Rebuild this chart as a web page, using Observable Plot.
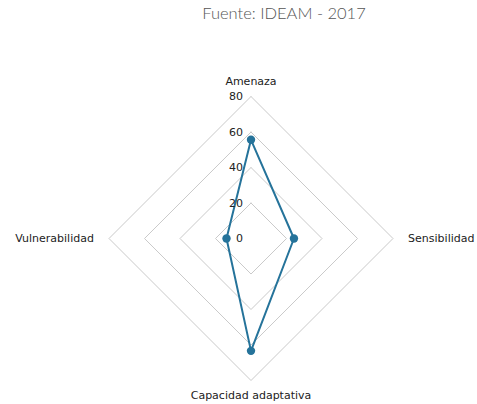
<!DOCTYPE html>
<html>
<head>
<meta charset="utf-8">
<script src="https://cdn.jsdelivr.net/npm/d3@7"></script>
<script src="https://cdn.jsdelivr.net/npm/@observablehq/plot@0.6"></script>
<style>
  html, body { margin: 0; padding: 0; background: #fff; }
  #wrap { position: relative; width: 477px; height: 404px; }
  #title { position: absolute; left: 0; width: 568px; top: 3px; text-align: center;
           font-family: Lato, sans-serif; font-weight: 300; font-size: 16.5px; color: #555; }
  #chart { position: absolute; left: 0; top: 0; }
</style>
</head>
<body>
<div id="wrap">
  <div id="chart"></div>
  <div id="title">Fuente: IDEAM - 2017</div>
</div>
<script>
const axes = ["Amenaza", "Sensibilidad", "Capacidad adaptativa", "Vulnerabilidad"];
const values = [55.6, 24.2, 63.3, 13.8];
const ticks = [20, 40, 60, 80];
const tickLabels = [0, 20, 40, 60, 80];
const color = "#25739a";

// angle for each axis: top, right, bottom, left
const ang = (i) => i * Math.PI / 2;
const px = (r, i) => r * Math.sin(ang(i));
const py = (r, i) => r * Math.cos(ang(i));

const grid = ticks.flatMap(r => [0, 1, 2, 3, 0].map(i => ({r, x: px(r, i), y: py(r, i)})));
const series = [0, 1, 2, 3, 0].map(i => ({x: px(values[i], i), y: py(values[i], i)}));
const pts = values.map((v, i) => ({x: px(v, i), y: py(v, i)}));
const anchors = ["middle", "start", "middle", "end"];
const labelR = 88.5;
const labels = axes.map((name, i) => ({name, x: px(labelR, i), y: py(labelR, i), anchor: anchors[i]}));

const plot = Plot.plot({
  width: 477,
  height: 404,
  margin: 0,
  x: {domain: [-80, 80], range: [108.5, 392.5], axis: null},
  y: {domain: [-80, 80], range: [380, 96], axis: null},
  style: {fontFamily: "DejaVu Sans, sans-serif", fontSize: "11px", color: "#222", background: "transparent"},
  marks: [
    Plot.line(grid, {x: "x", y: "y", z: "r", stroke: "#cacaca", strokeWidth: 1}),
    Plot.line(series, {x: "x", y: "y", stroke: color, strokeWidth: 2, curve: "linear"}),
    Plot.dot(pts, {x: "x", y: "y", r: 4.2, fill: color, stroke: "none"}),
    Plot.text(tickLabels, {x: 0, y: d => d, text: d => String(d), textAnchor: "end", dx: -8, fill: "#222", fontSize: 11}),
    Plot.text(labels.filter(d => d.anchor === "middle"), {x: "x", y: "y", text: "name", textAnchor: "middle", fill: "#222"}),
    Plot.text(labels.filter(d => d.anchor === "start"), {x: "x", y: "y", text: "name", textAnchor: "start", fill: "#222"}),
    Plot.text(labels.filter(d => d.anchor === "end"), {x: "x", y: "y", text: "name", textAnchor: "end", fill: "#222"})
  ]
});
document.getElementById("chart").appendChild(plot);
</script>
</body>
</html>
